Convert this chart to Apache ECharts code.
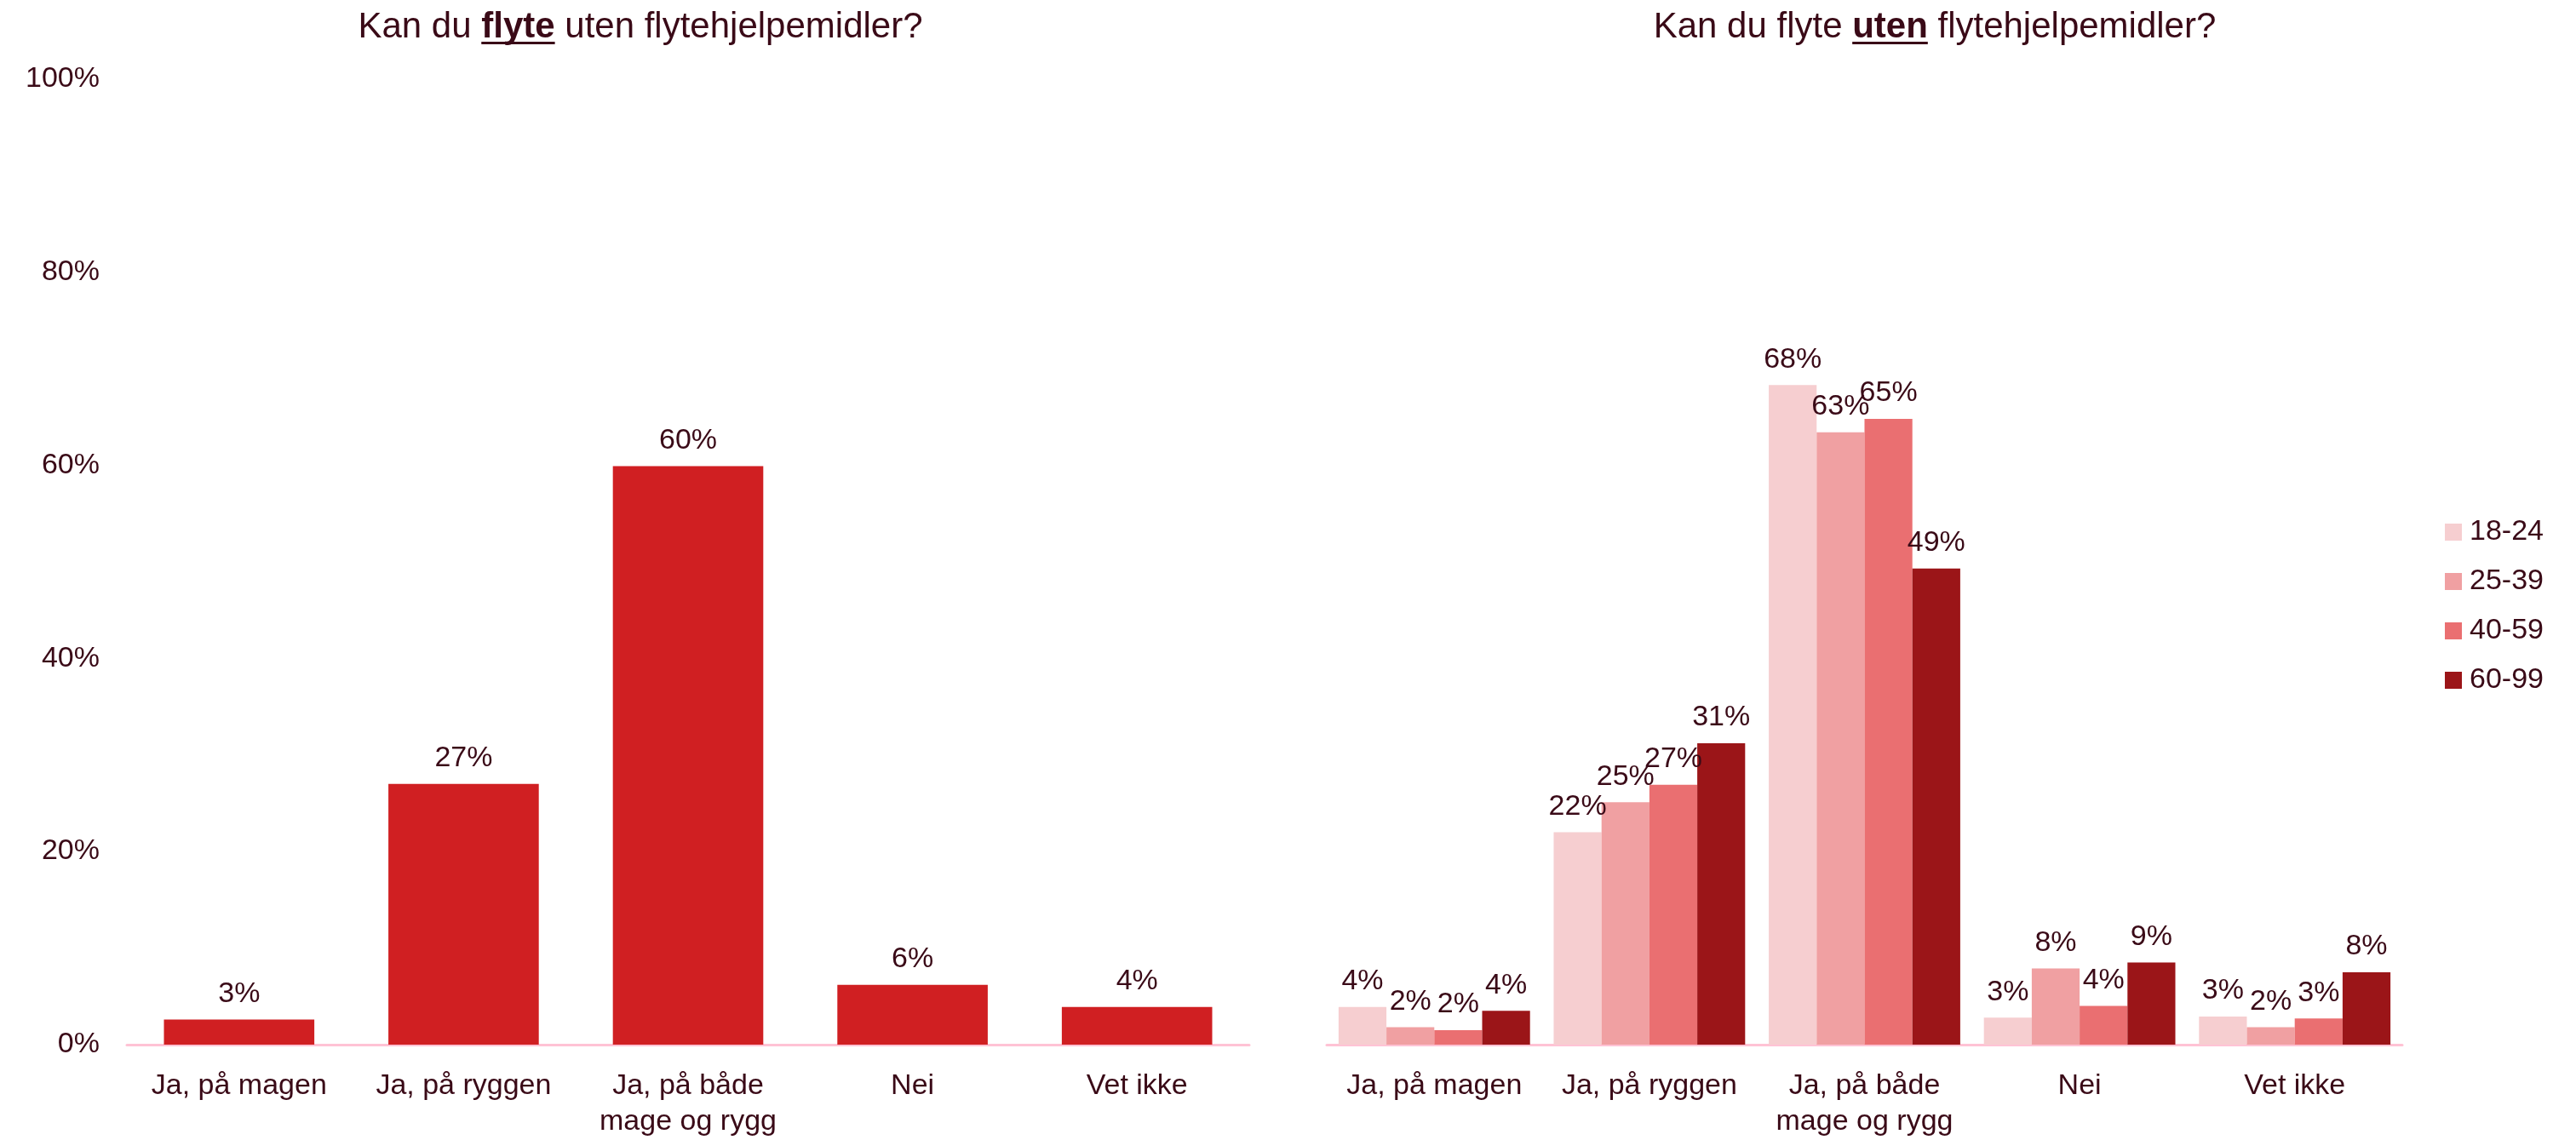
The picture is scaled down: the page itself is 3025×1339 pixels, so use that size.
<!DOCTYPE html>
<html>
<head>
<meta charset="utf-8">
<script src="https://cdn.jsdelivr.net/npm/echarts@6/dist/echarts.min.js"></script>
<style>
  html, body { margin: 0; padding: 0; background: #fff; }
  #chart { width: 3025px; height: 1339px; }
</style>
</head>
<body>
<div id="chart"></div>
<script>
// data (percent)
const categories = ['Ja, på magen', 'Ja, på ryggen', 'Ja, på både\nmage og rygg', 'Nei', 'Vet ikke'];
const totalValues = [2.6, 27.0, 59.9, 6.2, 3.9];
const ageGroups = ['18-24', '25-39', '40-59', '60-99'];
const age1824 = [3.9, 22.0, 68.3, 2.8, 2.9];
const age2539 = [1.8, 25.1, 63.4, 7.9, 1.8];
const age4059 = [1.5, 26.9, 64.8, 4.0, 2.7];
const age6099 = [3.5, 31.2, 49.3, 8.5, 7.5];
const yTicks = [0, 20, 40, 60, 80, 100];

const ageValues = [age1824, age2539, age4059, age6099];
const ageColors = ['#f6ced0', '#f0a0a2', '#ea6f71', '#9b1518'];
const textColor = '#3a0a17';
const fontFamily = '"Liberation Sans", Arial, sans-serif';

// title with one bold, underlined word
function makeTitle(cx, parts) {
    const ctx = document.createElement('canvas').getContext('2d');
    const size = 42;
    let widths = parts.map(function (p) {
        ctx.font = (p[1] ? 'bold ' : '') + size + 'px ' + fontFamily;
        return ctx.measureText(p[0]).width;
    });
    let total = widths.reduce(function (a, b) { return a + b; }, 0);
    let x = cx - total / 2;
    let els = [];
    parts.forEach(function (p, i) {
        els.push({
            type: 'text',
            x: x,
            y: 32,
            style: {
                text: p[0],
                fill: textColor,
                font: (p[1] ? 'bold ' : '') + size + 'px ' + fontFamily,
                align: 'left',
                verticalAlign: 'middle'
            }
        });
        if (p[1]) {
            els.push({
                type: 'rect',
                shape: { x: x, y: 49, width: widths[i], height: 3 },
                style: { fill: textColor }
            });
        }
        x += widths[i];
    });
    return els;
}

const labelStyle = {
    show: true,
    position: 'top',
    distance: 13,
    color: textColor,
    fontSize: 34,
    fontFamily: fontFamily,
    formatter: function (p) { return Math.round(p.value) + '%'; }
};

const axisLineStyle = { show: true, lineStyle: { color: '#ffc3d5', width: 3 } };

const catAxisLabel = {
    color: textColor,
    fontSize: 34,
    lineHeight: 42,
    fontFamily: fontFamily,
    margin: 28,
    interval: 0
};

let series = [{
    name: 'Totalt',
    type: 'bar',
    xAxisIndex: 0,
    yAxisIndex: 0,
    data: totalValues,
    barCategoryGap: '33%',
    itemStyle: { color: '#d01f22' },
    label: labelStyle
}];
ageGroups.forEach(function (name, i) {
    series.push({
        name: name,
        type: 'bar',
        xAxisIndex: 1,
        yAxisIndex: 1,
        data: ageValues[i],
        barGap: '0%',
        barCategoryGap: '11%',
        itemStyle: { color: ageColors[i] },
        label: labelStyle
    });
});

let myChart = echarts.init(document.getElementById('chart'), null, { renderer: 'canvas' });
myChart.setOption({
    animation: false,
    backgroundColor: '#fff',
    textStyle: { fontFamily: fontFamily },
    grid: [
        { left: 149, right: 3025 - 1467, top: 92.6, bottom: 1339 - 1227.7 },
        { left: 1558, right: 3025 - 2821, top: 92.6, bottom: 1339 - 1227.7 }
    ],
    legend: {
        data: ageGroups,
        orient: 'vertical',
        left: 2866,
        top: 603,
        itemWidth: 20,
        itemHeight: 20,
        itemGap: 24,
        icon: 'rect',
        textStyle: {
            color: textColor,
            fontSize: 34,
            fontFamily: fontFamily,
            padding: [0, 0, 0, 4]
        }
    },
    xAxis: [
        {
            type: 'category', gridIndex: 0, data: categories,
            axisLine: axisLineStyle, axisTick: { show: false }, axisLabel: catAxisLabel
        },
        {
            type: 'category', gridIndex: 1, data: categories,
            axisLine: axisLineStyle, axisTick: { show: false }, axisLabel: catAxisLabel
        }
    ],
    yAxis: [
        {
            type: 'value', gridIndex: 0, min: yTicks[0], max: yTicks[yTicks.length - 1], interval: 20,
            axisLine: { show: false }, axisTick: { show: false }, splitLine: { show: false },
            axisLabel: {
                color: textColor, fontSize: 34, fontFamily: fontFamily, margin: 32,
                formatter: '{value}%'
            }
        },
        {
            type: 'value', gridIndex: 1, min: yTicks[0], max: yTicks[yTicks.length - 1], interval: 20,
            axisLine: { show: false }, axisTick: { show: false }, splitLine: { show: false },
            axisLabel: { show: false }
        }
    ],
    graphic: makeTitle(752, [['Kan du ', false], ['flyte', true], [' uten flytehjelpemidler?', false]])
        .concat(makeTitle(2272, [['Kan du flyte ', false], ['uten', true], [' flytehjelpemidler?', false]])),
    series: series
});
</script>
</body>
</html>
